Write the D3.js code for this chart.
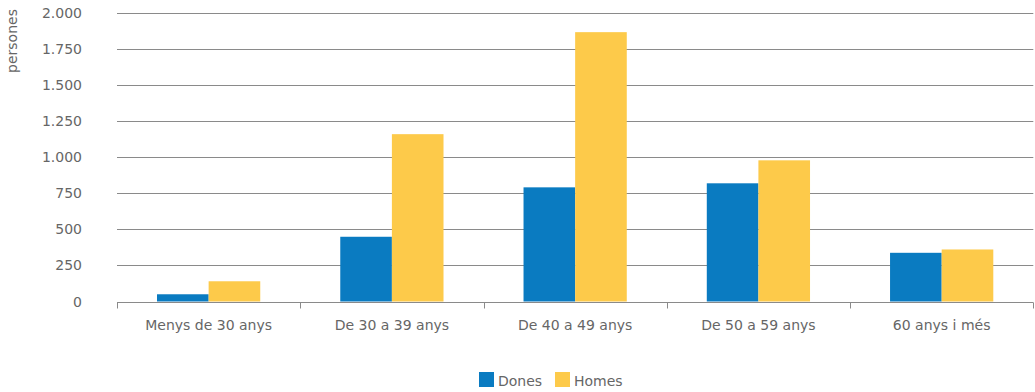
<!DOCTYPE html>
<html><head><meta charset="utf-8">
<script src="https://cdn.jsdelivr.net/npm/d3@7"></script>
<style>body{margin:0;background:#fff}svg{display:block}text{font-family:"DejaVu Sans",sans-serif;fill:#666}</style>
</head><body><svg id="c" width="1035" height="392"></svg>
<script>
const categories = ["Menys de 30 anys","De 30 a 39 anys","De 40 a 49 anys","De 50 a 59 anys","60 anys i més"];
const series = ["Dones","Homes"];
const dones = [50, 448, 790, 818, 337];
const homes = [140, 1158, 1864, 977, 360];
const yTicks = [0,250,500,750,1000,1250,1500,1750,2000];
const colors = ["#0a7bc1","#fdca4a"];
const yLabel = "persones";

(function(){
const svg = d3.select("#c");
const mLeft = 117, mRight = 1033.3, mTop = 12.5, mBottom = 301.5;
const x0 = d3.scaleBand().domain(categories).range([mLeft,mRight]).padding(0);
const x1 = d3.scaleBand().domain(series).range([0,x0.bandwidth()]).paddingInner(0).paddingOuter(0.775);
const y = d3.scaleLinear().domain([0,2000]).range([mBottom,mTop]);
const fmt = d3.formatLocale({decimal:",",thousands:".",grouping:[3],currency:["","€"]}).format(",d");

svg.append("g").selectAll("line").data(yTicks.filter(d=>d>0)).join("line")
  .attr("x1",mLeft).attr("x2",mRight).attr("y1",d=>Math.round(y(d))+0.5).attr("y2",d=>Math.round(y(d))+0.5)
  .attr("stroke","#8a8a8a").attr("stroke-width",1);

svg.append("g").selectAll("text").data(yTicks).join("text")
  .attr("x",82).attr("y",d=>y(d)).attr("dy","0.36em").attr("text-anchor","end")
  .style("font-size","14px").text(d=>fmt(d));

svg.append("text").attr("transform","translate(17,41) rotate(-90)").attr("text-anchor","middle")
  .style("font-size","14px").text(yLabel);

const data = categories.map((c,i)=>({c, vals:[dones[i],homes[i]]}));
const g = svg.append("g").selectAll("g").data(data).join("g").attr("transform",d=>`translate(${x0(d.c)},0)`);
g.selectAll("rect").data(d=>d.vals.map((v,j)=>({s:series[j],v,j}))).join("rect")
  .attr("x",d=>x1(d.s)).attr("width",x1.bandwidth())
  .attr("y",d=>y(d.v)).attr("height",d=>y(0)-y(d.v)).attr("fill",d=>colors[d.j]);

const xa = svg.append("g").attr("transform",`translate(0,${Math.round(y(0))+0.5})`);
xa.append("line").attr("x1",mLeft).attr("x2",mRight).attr("stroke","#8a8a8a");
const tickPos = categories.map(c=>x0(c)).concat([mRight]);
xa.selectAll(".tk").data(tickPos).join("line").attr("class","tk")
  .attr("x1",d=>Math.round(d)+0.5).attr("x2",d=>Math.round(d)+0.5).attr("y1",0).attr("y2",6).attr("stroke","#8a8a8a");
svg.append("g").selectAll("text").data(categories).join("text")
  .attr("x",d=>x0(d)+x0.bandwidth()/2).attr("y",330).attr("text-anchor","middle")
  .style("font-size","14px").text(d=>d);

const leg = svg.append("g");
const lx = [479, 555];
series.forEach((s,i)=>{
  leg.append("rect").attr("x",lx[i]).attr("y",372).attr("width",15).attr("height",15).attr("fill",colors[i]);
  leg.append("text").attr("x",lx[i]+19).attr("y",386).style("font-size","14px").text(s);
});
})();
</script></body></html>
